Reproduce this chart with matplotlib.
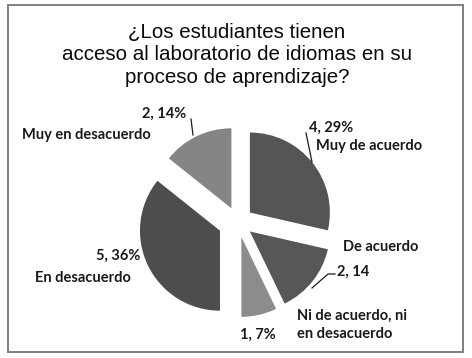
import numpy as np
import matplotlib
matplotlib.use('Agg')
import matplotlib.pyplot as plt
from matplotlib.patches import Rectangle

# ---------------------------------------------------------------------------
# Data
# ---------------------------------------------------------------------------
categories = ['Muy de acuerdo', 'De acuerdo', 'Ni de acuerdo, ni\nen desacuerdo',
              'En desacuerdo', 'Muy en desacuerdo']
counts     = [4, 2, 1, 5, 2]
value_text = ['4, 29%', '2, 14', '1, 7%', '5, 36%', '2, 14%']
colors     = ['#555555', '#575757', '#8c8c8c', '#4d4d4d', '#858585']
explode    = [0.19, 0.19, 0.19, 0.25, 0.19]

TITLE = '¿Los estudiantes tienen\nacceso al laboratorio de idiomas en su\nproceso de aprendizaje?'

W, H, DPI = 472, 358, 100
CX, CY, R = 238, 222, 80          # pie centre / radius in pixels

fig = plt.figure(figsize=(W / DPI, H / DPI), dpi=DPI)
ax = fig.add_axes([0, 0, 1, 1])

def px(x, y):
    """pixel (y down) -> data coords"""
    return (x - CX) / R, (CY - y) / R

wedges, _ = ax.pie(counts, colors=colors, startangle=90, counterclock=False,
                   explode=explode, radius=1.0, center=(0, 0),
                   wedgeprops=dict(linewidth=0), frame=True)
ax.set_xlim(-CX / R, (W - CX) / R)
ax.set_ylim((CY - H) / R, CY / R)
ax.set_aspect('auto')
ax.axis('off')

# frame
fig.patches.append(Rectangle((8 / W, 1 - 352 / H), (463 - 8) / W, (352 - 5) / H,
                             transform=fig.transFigure, fill=False,
                             edgecolor='#7f7f7f', lw=1.4))

fig.text(237 / W, 1 - 55 / H, TITLE, ha='center', va='center',
         family='Liberation Sans', fontsize=14.8, linespacing=1.22, color='#0a0a0a')

lab = dict(family='Lato', fontweight='bold', fontsize=10.5, color='#1a1a1a')
line_kw = dict(color='#1a1a1a', lw=0.9)

# value labels and category labels (pixel layout)
ax.text(*px(331, 128), value_text[0], ha='center', va='center', **lab)
ax.text(*px(316, 146), categories[0], ha='left', va='center', **lab)
ax.plot(*zip(px(306, 133), px(312, 162)), **line_kw)

ax.text(*px(381, 247), categories[1], ha='center', va='center', **lab)
ax.text(*px(337, 272), value_text[1], ha='left', va='center', **lab)
ax.plot(*zip(px(312, 288), px(328, 274), px(335, 274)), **line_kw)

ax.text(*px(297, 325), categories[2], ha='left', va='center', linespacing=1.4, **lab)
ax.text(*px(258, 335), value_text[2], ha='center', va='center', **lab)

ax.text(*px(118, 256), value_text[3], ha='center', va='center', **lab)
ax.text(*px(83, 278), categories[3], ha='center', va='center', **lab)

ax.text(*px(164, 114), value_text[4], ha='center', va='center', **lab)
ax.plot(*zip(px(191, 119), px(193, 135)), **line_kw)
ax.text(*px(86, 135), categories[4], ha='center', va='center', **lab)

plt.savefig('out.png', dpi=DPI)
